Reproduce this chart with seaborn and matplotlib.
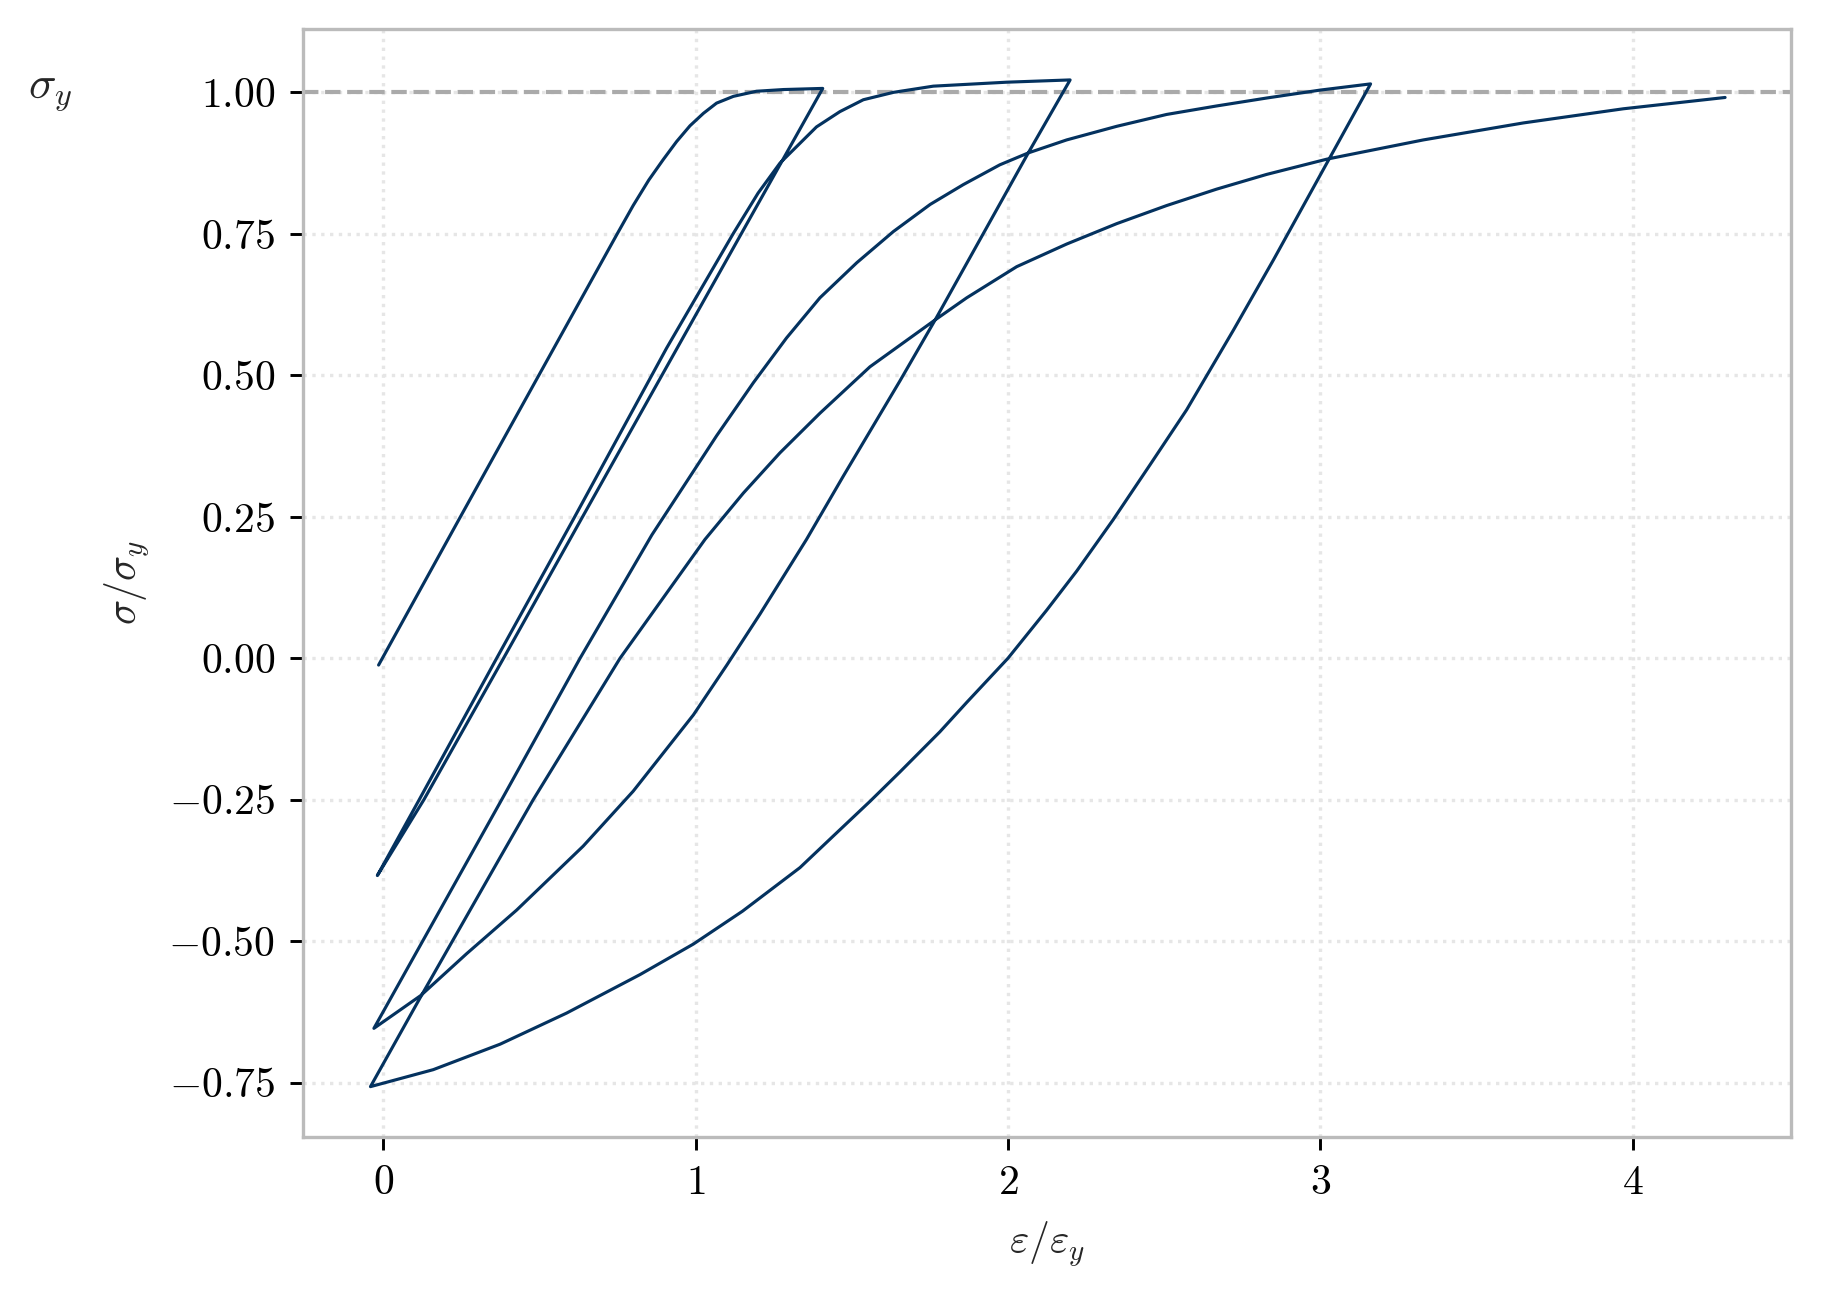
import numpy as np
import pandas as pd
import matplotlib
matplotlib.use("Agg")
import matplotlib.pyplot as plt
import seaborn as sns

# ---- data ----
# initial loading
seg_A_x = [-0.015, 0.25, 0.50, 0.75, 0.80, 0.85, 0.896, 0.939, 0.982, 1.025, 1.067, 1.121, 1.195, 1.281, 1.407]
seg_A_y = [-0.012, 0.253, 0.502, 0.751, 0.800, 0.845, 0.881, 0.913, 0.941, 0.963, 0.981, 0.993, 1.002, 1.005, 1.007]
# unloading 1
seg_B_x = [1.407, 1.273, 0.953, 0.633, 0.385, 0.13, 0.05, -0.019]
seg_B_y = [1.007, 0.875, 0.56, 0.245, 0.0, -0.25, -0.322, -0.384]
# reloading 1
seg_C_x = [-0.019, 0.115, 0.363, 0.608, 0.907, 1.121, 1.20, 1.27, 1.334, 1.387, 1.462, 1.537, 1.633, 1.761, 1.996, 2.199]
seg_C_y = [-0.384, -0.25, 0.0, 0.245, 0.548, 0.751, 0.822, 0.875, 0.910, 0.939, 0.966, 0.987, 1.0, 1.011, 1.018, 1.022]
# unloading 2
seg_D_x = [2.199, 2.065, 1.958, 1.767, 1.654, 1.473, 1.355, 1.206, 1.10, 0.993, 0.800, 0.640, 0.427, 0.267, 0.12, -0.030]
seg_D_y = [1.022, 0.893, 0.787, 0.598, 0.490, 0.322, 0.21, 0.078, -0.012, -0.100, -0.235, -0.332, -0.445, -0.522, -0.596, -0.654]
# reloading 2
seg_E_x = [-0.030, 0.379, 0.63, 0.86, 1.067, 1.185, 1.291, 1.398, 1.516, 1.633, 1.751, 1.857, 1.974, 2.065, 2.188, 2.348, 2.508, 2.668, 2.828, 2.999, 3.161]
seg_E_y = [-0.654, -0.25, 0.0, 0.218, 0.393, 0.487, 0.566, 0.637, 0.699, 0.754, 0.802, 0.837, 0.872, 0.893, 0.916, 0.940, 0.961, 0.976, 0.990, 1.004, 1.015]
# unloading 3
seg_F_x = [3.161, 3.031, 2.903, 2.850, 2.722, 2.572, 2.455, 2.337, 2.220, 2.124, 2.0, 1.868, 1.782, 1.654, 1.558, 1.441, 1.334, 1.15, 0.993, 0.822, 0.587, 0.374, 0.16, -0.041]
seg_F_y = [1.015, 0.885, 0.757, 0.704, 0.580, 0.439, 0.342, 0.245, 0.154, 0.085, 0.0, -0.078, -0.130, -0.201, -0.253, -0.314, -0.370, -0.447, -0.505, -0.559, -0.627, -0.682, -0.727, -0.757]
# reloading 3
seg_G_x = [-0.041, 0.12, 0.374, 0.48, 0.758, 1.030, 1.153, 1.270, 1.398, 1.558, 1.767, 1.868, 2.028, 2.188, 2.348, 2.508, 2.668, 2.828, 3.021, 3.330, 3.650, 3.970, 4.296]
seg_G_y = [-0.757, -0.598, -0.352, -0.25, 0.0, 0.21, 0.292, 0.363, 0.433, 0.515, 0.598, 0.637, 0.692, 0.732, 0.768, 0.800, 0.829, 0.855, 0.882, 0.916, 0.946, 0.971, 0.991]

x_ticks = [0, 1, 2, 3, 4]
y_ticks = [-0.75, -0.50, -0.25, 0.00, 0.25, 0.50, 0.75, 1.00]
yield_level = 1.0

segs_x = [seg_A_x, seg_B_x, seg_C_x, seg_D_x, seg_E_x, seg_F_x, seg_G_x]
segs_y = [seg_A_y, seg_B_y, seg_C_y, seg_D_y, seg_E_y, seg_F_y, seg_G_y]
xs, ys = [], []
for i, (sx, sy) in enumerate(zip(segs_x, segs_y)):
    if i > 0:
        sx, sy = sx[1:], sy[1:]
    xs += list(sx)
    ys += list(sy)
df = pd.DataFrame({"strain": xs, "stress": ys})

# ---- style ----
sns.set_style("ticks")
plt.rcParams.update({
    "font.family": ["serif"],
    "font.serif": ["cmr10", "DejaVu Serif"],
    "mathtext.fontset": "cm",
    "axes.formatter.use_mathtext": True,
    "axes.unicode_minus": True,
    "font.size": 10,
})

fig = plt.figure(figsize=(1821 / 300, 1294 / 300), dpi=300)
ax = fig.add_axes([303 / 1821, 1 - 1137 / 1294, (1791 - 303) / 1821, (1137 - 29) / 1294])

ax.axhline(yield_level, color="#aaaaaa", lw=1.0, ls="--", zorder=1)
sns.lineplot(data=df, x="strain", y="stress", sort=False, estimator=None,
             color="#04325f", lw=0.75, ax=ax, zorder=3)

ax.set_xlim(-0.257, 4.507)
ax.set_ylim(-0.846, 1.112)
ax.set_xticks(x_ticks)
ax.set_yticks(y_ticks)
ax.grid(True, ls=":", lw=0.8, color="#e6e6e6", zorder=0)
ax.set_axisbelow(True)

for sp in ax.spines.values():
    sp.set_color("#bbbbbb")
    sp.set_linewidth(0.8)
ax.tick_params(axis="both", which="major", length=3.2, width=0.7, color="black",
               labelsize=10, labelcolor="black")

ax.set_xlabel(r"$\varepsilon/\varepsilon_y$", fontsize=10)
ax.set_ylabel(r"$\sigma/\sigma_y$", fontsize=10)
ax.text(-0.17, yield_level, r"$\sigma_y$", transform=ax.get_yaxis_transform(),
        ha="center", va="center", fontsize=11)

fig.savefig("out.png", dpi=300)
